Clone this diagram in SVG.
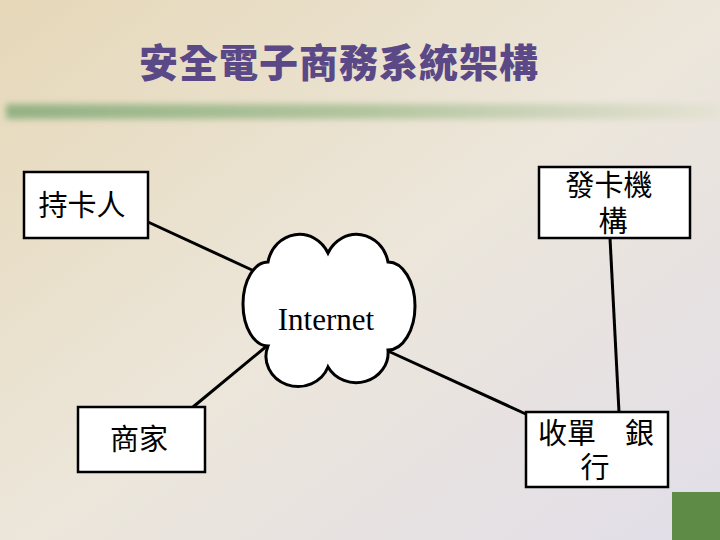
<svg xmlns="http://www.w3.org/2000/svg" width="720" height="540" viewBox="0 0 720 540">
  <defs>
    <linearGradient id="bg" x1="0" y1="0" x2="1" y2="1">
      <stop offset="0" stop-color="#e6d8b8"/>
      <stop offset="0.5" stop-color="#ece6da"/>
      <stop offset="1" stop-color="#e2dee9"/>
    </linearGradient>
    <linearGradient id="bar" x1="0" y1="0" x2="1" y2="0">
      <stop offset="0" stop-color="#94b284"/>
      <stop offset="0.5" stop-color="#b2c59e"/>
      <stop offset="1" stop-color="#e6e2d4"/>
    </linearGradient>
    <filter id="soft" x="-5%" y="-100%" width="110%" height="300%">
      <feGaussianBlur stdDeviation="3"/>
    </filter>
    <style>
      .box { fill: #ffffff; stroke: #000000; stroke-width: 2.5; }
      .lbl { font-family: "Noto Sans CJK TC", "Noto Sans CJK SC", sans-serif; font-size: 29px; fill: #000000; text-anchor: middle; }
      .conn line { stroke: #000000; stroke-width: 3; }
    </style>
  </defs>
  <rect x="0" y="0" width="720" height="540" fill="url(#bg)"/>
  <rect x="6" y="104" width="714" height="15" fill="url(#bar)" filter="url(#soft)"/>
  <rect x="672" y="492" width="48" height="48" fill="#5e8b46"/>
  <text x="339" y="77" font-family="Noto Sans CJK TC, Noto Sans CJK SC, sans-serif" font-size="39" font-weight="900" fill="#5b4886" text-anchor="middle" letter-spacing="1">安全電子商務系統架構</text>

  <g id="connectors" class="conn">
    <line x1="148" y1="222" x2="252" y2="270"/>
    <line x1="193" y1="407" x2="268" y2="345"/>
    <line x1="388" y1="351" x2="528" y2="415"/>
    <line x1="610" y1="238" x2="619" y2="412"/>
  </g>

  <g id="internet">
    <path d="M 268 262 A 32 34 0 0 1 328 253 A 32 34 0 0 1 388 262 A 27 44 0 0 1 388 350 A 32 30 0 0 1 328 367 A 32 30 0 0 1 268 346 A 25 42 0 0 1 268 262 Z" fill="#ffffff" stroke="#000000" stroke-width="3"/>
    <text x="326" y="330" font-family="Liberation Serif, serif" font-size="31" text-anchor="middle">Internet</text>
  </g>

  <g id="cardholder">
    <rect class="box" x="24" y="172" width="124" height="66"/>
    <text class="lbl" x="82" y="216">持卡人</text>
  </g>

  <g id="issuer">
    <rect class="box" x="539" y="167" width="151" height="71"/>
    <text class="lbl" x="609" y="196">發卡機</text>
    <text class="lbl" x="613" y="232">構</text>
  </g>

  <g id="merchant">
    <rect class="box" x="78" y="407" width="127" height="65"/>
    <text class="lbl" x="139" y="450">商家</text>
  </g>

  <g id="acquirer">
    <rect class="box" x="526" y="412" width="142" height="75"/>
    <text class="lbl" x="596" y="444" xml:space="preserve">收單　銀</text>
    <text class="lbl" x="595" y="478">行</text>
  </g>
</svg>
